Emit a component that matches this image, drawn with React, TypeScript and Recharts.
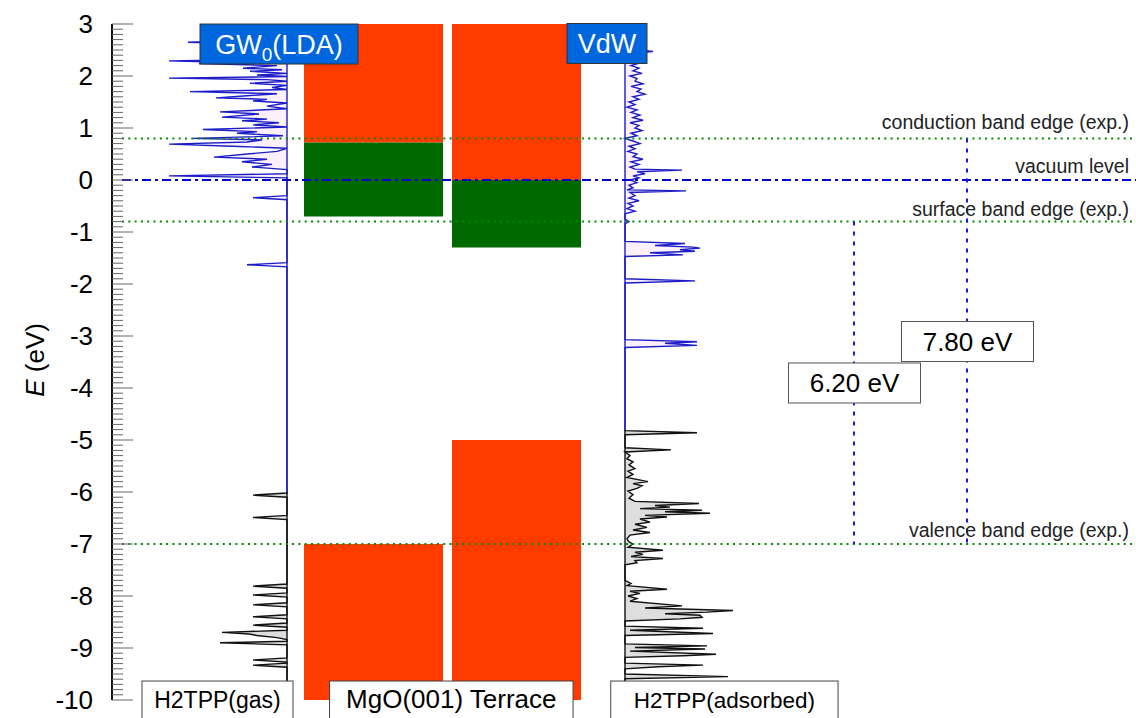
import React from 'react';
import {
  ComposedChart,
  XAxis,
  YAxis,
  Area,
  ReferenceLine,
  ReferenceArea,
  ReferenceDot,
} from 'recharts';

const FONT = '"Liberation Sans", Arial, Helvetica, sans-serif';

// energy axis (eV)
const majorTicks = [-10, -9, -8, -7, -6, -5, -4, -3, -2, -1, 0, 1, 2, 3];

// experimental reference levels
const edgeNames = [
  'conduction band edge (exp.)',
  'vacuum level',
  'surface band edge (exp.)',
  'valence band edge (exp.)',
];
const edgeEnergies = [0.8, 0, -0.8, -7];

// optical gaps: upper edge -> valence band edge
const gapTops = [-0.8, 0.8];
const gapBottoms = [-7, -7];

// MgO(001) terrace bands, [bottom, top] in eV
const ldaConduction = [0.72, 3];
const ldaSurface = [-0.7, 0.72];
const ldaValence = [-10, -7];
const vdwConduction = [0, 3];
const vdwSurface = [-1.3, 0];
const vdwValence = [-10, -5];

const methodNames = ['GW', '0', '(LDA)', 'VdW'];
const panelNames = ['H2TPP(gas)', 'MgO(001) Terrace', 'H2TPP(adsorbed)'];

// H2TPP gas phase DOS, [E (eV), intensity]
const gasUnoccupied: [number, number][] = [
  [2.7, 0], [2.65, 99], [2.6, 0], [2.5, 12], [2.4, 0], [2.33, 0], [2.29, 118], [2.26, 55],
  [2.24, 88], [2.2, 10], [2.15, 44], [2.12, 5], [2.09, 37], [2.05, 0], [2.02, 30], [1.99, 0],
  [1.96, 118], [1.93, 20], [1.9, 0], [1.86, 37], [1.82, 0], [1.78, 15], [1.74, 0], [1.7, 97],
  [1.66, 10], [1.62, 40], [1.58, 71], [1.55, 20], [1.52, 34], [1.48, 0], [1.42, 20], [1.37, 0],
  [1.31, 67], [1.27, 28], [1.21, 65], [1.17, 20], [1.14, 45], [1.1, 8], [1.06, 34], [1.02, 0],
  [0.97, 84], [0.93, 30], [0.9, 50], [0.85, 4], [0.8, 94], [0.77, 25], [0.73, 40], [0.69, 118],
  [0.65, 55], [0.61, 0], [0.55, 10], [0.5, 40], [0.44, 73], [0.4, 20], [0.35, 45], [0.3, 15],
  [0.25, 35], [0.2, 0], [0.12, 0], [0.08, 118], [0.04, 0], [-0.3, 0], [-0.34, 34], [-0.38, 0],
  [-1.59, 0], [-1.63, 40], [-1.67, 0], [-6.0, 0],
];
const gasOccupied: [number, number][] = [
  [-6.0, 0], [-6.02, 0], [-6.06, 34], [-6.1, 0], [-6.45, 0], [-6.49, 34], [-6.53, 0],
  [-7.77, 0], [-7.81, 34], [-7.85, 0], [-7.94, 0], [-7.98, 34], [-8.02, 0], [-8.13, 0],
  [-8.17, 34], [-8.21, 0], [-8.36, 0], [-8.4, 34], [-8.44, 0], [-8.52, 0], [-8.56, 34],
  [-8.6, 0], [-8.66, 0], [-8.7, 65], [-8.73, 38], [-8.76, 30], [-8.8, 10], [-8.84, 0],
  [-8.87, 0], [-8.9, 67], [-8.94, 0], [-9.19, 0], [-9.23, 34], [-9.27, 0], [-9.29, 0],
  [-9.33, 34], [-9.37, 0], [-10, 0],
];

// H2TPP adsorbed on MgO, [E (eV), intensity]
const adsUnoccupied: [number, number][] = [
  [2.52, 3], [2.47, 28], [2.44, 5], [2.3, 8], [2.25, 15], [2.2, 6], [2.15, 14], [2.1, 8],
  [2.05, 17], [2.0, 5], [1.95, 12], [1.9, 10], [1.85, 18], [1.8, 6], [1.75, 16], [1.7, 12],
  [1.65, 20], [1.6, 8], [1.55, 14], [1.5, 4], [1.45, 10], [1.4, 2], [1.35, 12], [1.3, 6],
  [1.25, 15], [1.2, 8], [1.15, 18], [1.1, 5], [1.05, 14], [1.0, 10], [0.95, 17], [0.9, 6],
  [0.85, 12], [0.8, 0], [0.75, 8], [0.7, 15], [0.65, 4], [0.6, 10], [0.55, 3], [0.5, 12],
  [0.45, 8], [0.4, 18], [0.35, 6], [0.3, 14], [0.25, 5], [0.21, 10], [0.19, 57], [0.16, 12],
  [0.12, 20], [0.08, 8], [0.04, 14], [0.0, 5], [-0.05, 12], [-0.1, 4], [-0.15, 8], [-0.19, 2],
  [-0.21, 61], [-0.24, 5], [-0.3, 10], [-0.35, 4], [-0.4, 14], [-0.45, 3], [-0.5, 8],
  [-0.55, 2], [-0.6, 10], [-0.65, 0], [-0.75, 0], [-0.8, 4], [-0.84, 0], [-1.18, 0],
  [-1.22, 60], [-1.26, 30], [-1.29, 68], [-1.31, 75], [-1.34, 55], [-1.37, 70], [-1.4, 25],
  [-1.44, 58], [-1.47, 0], [-1.9, 0], [-1.94, 70], [-1.98, 0], [-3.07, 0], [-3.11, 72],
  [-3.14, 40], [-3.18, 72], [-3.22, 0], [-4.8, 0],
];
const adsOccupied: [number, number][] = [
  [-4.8, 0], [-4.82, 0], [-4.86, 72], [-4.9, 0], [-5.15, 0], [-5.19, 46], [-5.23, 0],
  [-5.3, 5], [-5.36, 2], [-5.42, 8], [-5.48, 4], [-5.55, 10], [-5.6, 3], [-5.66, 8],
  [-5.72, 2], [-5.8, 23], [-5.84, 8], [-5.88, 17], [-5.93, 12], [-5.98, 3], [-6.05, 8],
  [-6.12, 4], [-6.18, 10], [-6.22, 74], [-6.26, 30], [-6.29, 45], [-6.32, 15], [-6.35, 77],
  [-6.38, 40], [-6.41, 85], [-6.45, 20], [-6.48, 42], [-6.52, 15], [-6.58, 25], [-6.62, 10],
  [-6.68, 22], [-6.73, 8], [-6.78, 25], [-6.83, 5], [-6.9, 2], [-6.96, 4], [-7.0, 8],
  [-7.06, 3], [-7.12, 38], [-7.16, 10], [-7.2, 18], [-7.24, 6], [-7.28, 38], [-7.32, 10],
  [-7.36, 12], [-7.4, 0], [-7.7, 0], [-7.76, 6], [-7.8, 2], [-7.87, 42], [-7.91, 5],
  [-7.95, 15], [-8.0, 3], [-8.05, 12], [-8.1, 5], [-8.19, 57], [-8.23, 20], [-8.28, 108],
  [-8.31, 82], [-8.34, 40], [-8.37, 75], [-8.41, 77], [-8.44, 55], [-8.48, 0], [-8.58, 0],
  [-8.62, 78], [-8.66, 5], [-8.72, 88], [-8.76, 0], [-8.92, 0], [-8.96, 82], [-8.99, 10],
  [-9.02, 80], [-9.06, 5], [-9.12, 91], [-9.15, 58], [-9.18, 0], [-9.29, 0], [-9.33, 78],
  [-9.36, 33], [-9.4, 0], [-9.5, 0], [-9.55, 103], [-9.59, 0], [-10, 0],
];

// horizontal layout, in plot units (1 unit = 1 px right of the energy axis)
const X_MAX = 1024;
const GAS_BASE = 175;
const ADS_BASE = 513;
const LDA_X = [192, 331];
const VDW_X = [340, 469];
const LEVEL_START = 10;
const LEVEL_TEXT_X = 1017;
const GAP_X = [742, 855];

const BLUE = '#1c1cc8';
const RED = '#ff3b00';
const GREEN = '#006a00';

// each curve is drawn as a range between its baseline and the DOS value
const toRows = (pts: [number, number][], base: number, dir: number) =>
  pts.map(([e, a]) => ({ e, v: [base, base + dir * a] }));

const minorTicks: number[] = [];
for (let i = majorTicks[0] * 10; i <= majorTicks[majorTicks.length - 1] * 10; i++) {
  minorTicks.push(i / 10);
}

const EnergyTick = (props: any) => {
  const { x, y, payload } = props;
  const v = payload.value;
  const major = Math.abs(v - Math.round(v)) < 1e-6;
  return (
    <g>
      <line x1={x} x2={x + (major ? 21 : 11)} y1={y} y2={y} stroke="#666" strokeWidth={1} />
      {major && (
        <text x={x - 19} y={y} dy="0.36em" textAnchor="end" fontSize={26} fill="#000" fontFamily={FONT}>
          {Math.round(v)}
        </text>
      )}
    </g>
  );
};

// boxed text centred on a reference dot
const boxLabel =
  (w: number, h: number, fill: string, stroke: string, content: React.ReactNode, textY = 0) =>
  (p: any) => (
    <g>
      <rect x={p.cx - w / 2} y={p.cy - h / 2} width={w} height={h} fill={fill} stroke={stroke} strokeWidth={1} />
      <text x={p.cx} y={p.cy + textY} textAnchor="middle" fontFamily={FONT}>
        {content}
      </text>
    </g>
  );

const levelText = (text: string, lift: number) => (p: any) => (
  <text x={p.cx} y={p.cy - lift} textAnchor="end" fontSize={19.5} fill="#222" fontFamily={FONT}>
    {text}
  </text>
);

const axisTitle = (p: any) => (
  <text
    x={p.cx}
    y={p.cy}
    transform={`rotate(-90 ${p.cx} ${p.cy})`}
    textAnchor="middle"
    dy="0.36em"
    fontSize={26}
    fill="#000"
    fontFamily={FONT}
  >
    <tspan fontStyle="italic">E</tspan> (eV)
  </text>
);

const levelLifts = [9, 7, 6, 7];
const levelDash = ['2 4.3', '9 4 3 4', '2 4.3', '2 4.3'];
const levelColor = ['#008a00', '#0000cc', '#008a00', '#008a00'];

export default function App() {
  const bands = [
    { x: LDA_X, y: ldaConduction, c: RED },
    { x: LDA_X, y: ldaSurface, c: GREEN },
    { x: LDA_X, y: ldaValence, c: RED },
    { x: VDW_X, y: vdwConduction, c: RED },
    { x: VDW_X, y: vdwSurface, c: GREEN },
    { x: VDW_X, y: vdwValence, c: RED },
  ];

  const curves = [
    { data: toRows(gasUnoccupied, GAS_BASE, -1), stroke: BLUE, fill: '#fbf0fb' },
    { data: toRows(gasOccupied, GAS_BASE, -1), stroke: '#111', fill: '#dedede' },
    { data: toRows(adsUnoccupied, ADS_BASE, 1), stroke: BLUE, fill: '#fbf0fb' },
    { data: toRows(adsOccupied, ADS_BASE, 1), stroke: '#111', fill: '#dedede' },
  ];

  return (
    <div style={{ position: 'absolute', left: 0, top: 0, background: '#fff' }}>
      <ComposedChart
        width={1136}
        height={718}
        layout="vertical"
        margin={{ top: 24, right: 0, bottom: 18, left: 0 }}
      >
        <XAxis type="number" hide domain={[0, X_MAX]} allowDataOverflow />
        <YAxis
          type="number"
          dataKey="e"
          width={112}
          reversed
          domain={[majorTicks[0], majorTicks[majorTicks.length - 1]]}
          allowDataOverflow
          ticks={minorTicks}
          interval={0}
          tick={EnergyTick}
          tickLine={false}
          tickSize={0}
          tickMargin={0}
          axisLine={{ stroke: '#111', strokeWidth: 2 }}
        />

        {bands.map((b, i) => (
          <ReferenceArea
            key={`band-${i}`}
            x1={b.x[0]}
            x2={b.x[1]}
            y1={b.y[0]}
            y2={b.y[1]}
            fill={b.c}
            fillOpacity={1}
            stroke="none"
            ifOverflow="visible"
          />
        ))}

        {curves.map((c, i) => (
          <Area
            key={`dos-${i}`}
            data={c.data}
            dataKey="v"
            type="linear"
            stroke={c.stroke}
            strokeWidth={1.4}
            fill={c.fill}
            fillOpacity={1}
            dot={false}
            activeDot={false}
            isAnimationActive={false}
          />
        ))}

        {edgeEnergies.map((e, i) => (
          <ReferenceLine
            key={`lvl-${i}`}
            segment={[{ x: LEVEL_START, y: e }, { x: X_MAX, y: e }]}
            stroke={levelColor[i]}
            strokeWidth={2}
            strokeDasharray={levelDash[i]}
          />
        ))}

        {gapTops.map((top, i) => (
          <ReferenceLine
            key={`gap-${i}`}
            segment={[{ x: GAP_X[i], y: top }, { x: GAP_X[i], y: gapBottoms[i] }]}
            stroke="#1a1ae0"
            strokeWidth={2}
            strokeDasharray="4 6"
          />
        ))}

        {edgeNames.map((name, i) => (
          <ReferenceDot
            key={`lvl-text-${i}`}
            x={LEVEL_TEXT_X}
            y={edgeEnergies[i]}
            ifOverflow="visible"
            shape={levelText(name, levelLifts[i])}
          />
        ))}

        {gapTops.map((top, i) => (
          <ReferenceDot
            key={`gap-text-${i}`}
            x={GAP_X[i] + 0.5}
            y={[-3.904, -3.106][i]}
            ifOverflow="visible"
            shape={boxLabel(
              132,
              40,
              '#fff',
              '#555',
              <tspan fontSize={26} fill="#000">{`${(top - gapBottoms[i]).toFixed(2)} eV`}</tspan>,
              9.4,
            )}
          />
        ))}

        <ReferenceDot
          x={167}
          y={2.615}
          ifOverflow="visible"
          shape={boxLabel(
            158,
            40,
            '#0066dd',
            '#333',
            <>
              <tspan fontSize={27} fill="#fff">{methodNames[0]}</tspan>
              <tspan fontSize={19} fill="#fff" dy={7}>{methodNames[1]}</tspan>
              <tspan fontSize={27} fill="#fff" dy={-7}>{methodNames[2]}</tspan>
            </>,
            9.7,
          )}
        />
        <ReferenceDot
          x={495}
          y={2.625}
          ifOverflow="visible"
          shape={boxLabel(
            80,
            40,
            '#0066dd',
            '#333',
            <tspan fontSize={27} fill="#fff">{methodNames[3]}</tspan>,
            9.7,
          )}
        />

        {[105.5, 339.3, 612.4].map((x, i) => (
          <ReferenceDot
            key={`panel-${i}`}
            x={x}
            y={-10.212}
            ifOverflow="visible"
            shape={boxLabel(
              [151, 243.5, 227.3][i],
              60,
              '#fff',
              '#444',
              <tspan fontSize={[23, 26, 22.5][i]} fill="#000">{panelNames[i]}</tspan>,
              -3,
            )}
          />
        ))}

        <ReferenceDot x={-77} y={-3.46} ifOverflow="visible" shape={axisTitle} />
      </ComposedChart>
    </div>
  );
}
